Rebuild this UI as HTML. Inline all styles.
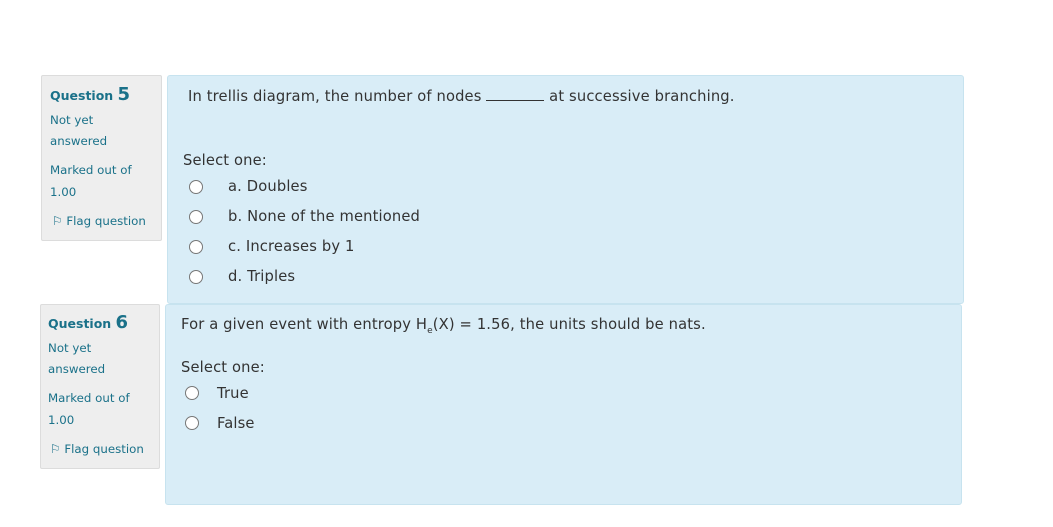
<!DOCTYPE html>
<html><head><style>
body{margin:0;width:1053px;height:527px;background:#fff;position:relative;font-family:"DejaVu Sans","Liberation Sans",sans-serif;overflow:hidden}
.g{position:absolute;background:#eeeeee;border:1px solid #dcdcdc;border-radius:2px}
.b{position:absolute;background:#d9edf7;border:1px solid #c7e3ef;border-radius:3px}
.t{position:absolute;white-space:nowrap;color:#333;font-size:14.7px;letter-spacing:0.15px}
.s{position:absolute;white-space:nowrap;color:#1a7189;font-size:11.8px}
.q{position:absolute;white-space:nowrap;color:#1a7189;font-size:12.5px;font-weight:bold}
.q b{font-size:18px}
.r{position:absolute;width:12px;height:12px;border:1px solid #777;border-radius:50%;background:#fff}
</style></head><body>
<div class="g" style="left:41px;top:75px;width:119px;height:164px"></div>
<div class="b" style="left:167px;top:75px;width:795px;height:227px"></div>
<div class="g" style="left:40px;top:304px;width:118px;height:163px"></div>
<div class="b" style="left:165px;top:304px;width:795px;height:199px"></div>

<div class="q" style="left:50px;top:84px">Question <b>5</b></div>
<div class="s" style="left:50px;top:113px">Not yet</div>
<div class="s" style="left:50px;top:134px">answered</div>
<div class="s" style="left:50px;top:163px">Marked out of</div>
<div class="s" style="left:50px;top:185px">1.00</div>
<div class="s" style="left:52px;top:214px">⚐ Flag question</div>

<div class="t" style="left:188px;top:88px">In trellis diagram, the number of nodes <span style="display:inline-block;width:58px;border-bottom:1px solid #333"></span> at successive branching.</div>
<div class="t" style="left:183px;top:152px">Select one:</div>
<div class="r" style="left:189px;top:180px"></div><div class="t" style="left:228px;top:178px">a. Doubles</div>
<div class="r" style="left:189px;top:210px"></div><div class="t" style="left:228px;top:208px">b. None of the mentioned</div>
<div class="r" style="left:189px;top:240px"></div><div class="t" style="left:228px;top:238px">c. Increases by 1</div>
<div class="r" style="left:189px;top:270px"></div><div class="t" style="left:228px;top:268px">d. Triples</div>

<div class="q" style="left:48px;top:312px">Question <b>6</b></div>
<div class="s" style="left:48px;top:341px">Not yet</div>
<div class="s" style="left:48px;top:362px">answered</div>
<div class="s" style="left:48px;top:391px">Marked out of</div>
<div class="s" style="left:48px;top:413px">1.00</div>
<div class="s" style="left:50px;top:442px">⚐ Flag question</div>

<div class="t" style="left:181px;top:316px">For a given event with entropy H<sub style="font-size:9px">e</sub>(X) = 1.56, the units should be nats.</div>
<div class="t" style="left:181px;top:359px">Select one:</div>
<div class="r" style="left:185px;top:386px"></div><div class="t" style="left:217px;top:385px">True</div>
<div class="r" style="left:185px;top:416px"></div><div class="t" style="left:217px;top:415px">False</div>
</body></html>
